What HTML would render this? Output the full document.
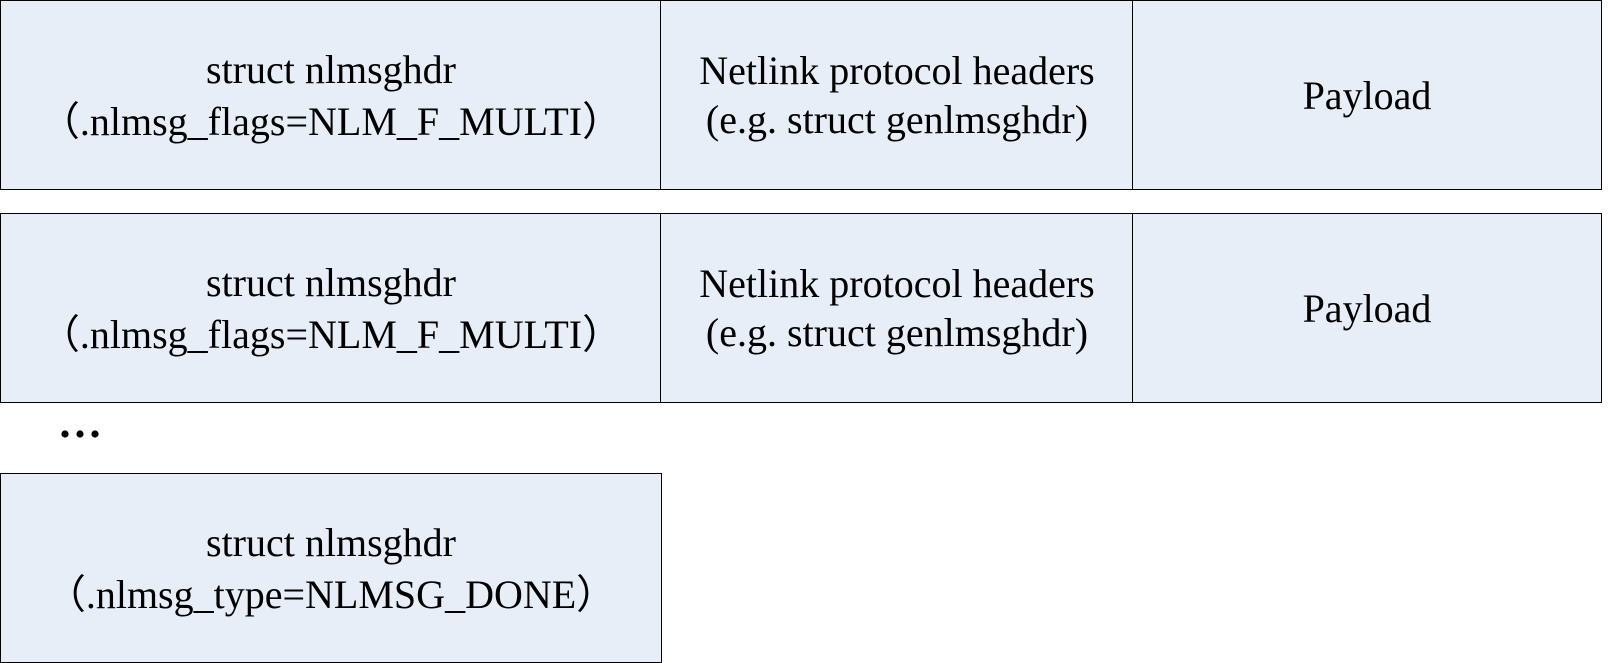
<!DOCTYPE html>
<html><head><meta charset="utf-8"><style>
body{margin:0;width:1608px;height:663px;background:#fff;overflow:hidden;position:relative;font-family:"Liberation Serif","Noto Serif CJK SC",serif;}
.b{position:absolute;box-sizing:border-box;border:1.5px solid #000;background:#e8eef8;display:flex;align-items:center;justify-content:center;text-align:center;font-size:40px;line-height:49px;color:#000;white-space:nowrap;}
.p{font-family:"Noto Sans CJK SC",sans-serif;display:inline-block;width:40px;}
</style></head><body>
<div class="b" style="left:0;top:0;width:662px;height:190px"><div>struct nlmsghdr<br><span class="p">（</span>.nlmsg_flags=NLM_F_MULTI<span class="p">）</span></div></div>
<div class="b" style="left:660px;top:0;width:474px;height:190px">Netlink protocol headers<br>(e.g. struct genlmsghdr)</div>
<div class="b" style="left:1132px;top:0;width:470px;height:190px">Payload</div>
<div class="b" style="left:0;top:213px;width:662px;height:190px"><div>struct nlmsghdr<br><span class="p">（</span>.nlmsg_flags=NLM_F_MULTI<span class="p">）</span></div></div>
<div class="b" style="left:660px;top:213px;width:474px;height:190px">Netlink protocol headers<br>(e.g. struct genlmsghdr)</div>
<div class="b" style="left:1132px;top:213px;width:470px;height:190px">Payload</div>
<svg style="position:absolute;left:0;top:420px" width="120" height="30"><circle cx="65" cy="14" r="3.6"/><circle cx="80" cy="14" r="3.6"/><circle cx="95" cy="14" r="3.6"/></svg>
<div class="b" style="left:0;top:473px;width:662px;height:190px"><div>struct nlmsghdr<br><span class="p">（</span>.nlmsg_type=NLMSG_DONE<span class="p">）</span></div></div>
</body></html>
